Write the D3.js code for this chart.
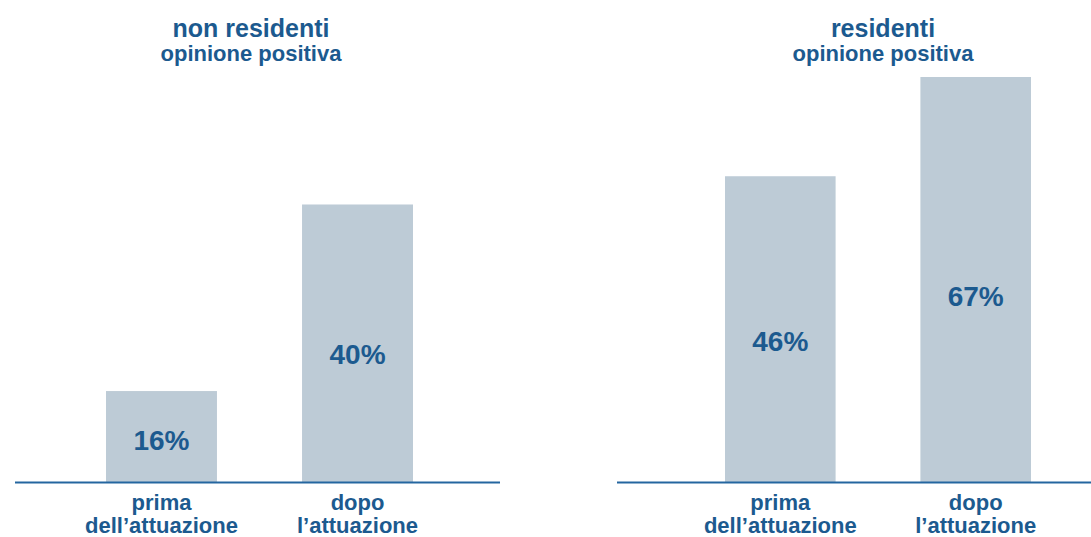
<!DOCTYPE html>
<html>
<head>
<meta charset="utf-8">
<script src="https://cdn.jsdelivr.net/npm/d3@7"></script>
<style>
  html, body { margin: 0; padding: 0; background: #fff; }
  svg { display: block; }
  text { font-family: "Liberation Sans", Arial, Helvetica, sans-serif; font-weight: bold; fill: #1c5a8f; }
</style>
</head>
<body>
<svg id="chart" width="1091" height="537"></svg>
<script>
// ---- data ----
const panelTitles = ["non residenti", "residenti"];
const panelSubtitles = ["opinione positiva", "opinione positiva"];
const categories = ["prima dell’attuazione", "dopo l’attuazione"];
const categoryLines = [["prima", "dell’attuazione"], ["dopo", "l’attuazione"]];
const nonResidenti = [16, 40];
const residenti = [46, 67];
const valueLabels = [["16%", "40%"], ["46%", "67%"]];
// per-panel value-axis domains (the original panels are not drawn to a common scale)
const valueDomains = [[4.3, 56.4], [-18.7, 67]];

// ---- layout ----
const W = 1091, H = 537;
const baseY = 482, topY = 77;
const barRanges = [[106, 413], [725, 1031]];
const lineRanges = [[15, 500], [617, 1091]];
const titleX = [251, 883];
const barColor = "#bdcbd6";
const lineColor = "#2466a0";

const svg = d3.select("#chart");
const seriesList = [nonResidenti, residenti];

seriesList.forEach((values, p) => {
  const g = svg.append("g");
  const x = d3.scaleBand().domain(categories).range(barRanges[p]).paddingInner(0.434).paddingOuter(0);
  const y = d3.scaleLinear().domain(valueDomains[p]).range([baseY, topY]);
  const rows = categories.map((c, i) => ({ c, v: values[i], label: valueLabels[p][i], lines: categoryLines[i] }));

  g.selectAll("rect.bar").data(rows).join("rect")
    .attr("class", "bar")
    .attr("x", d => x(d.c))
    .attr("width", x.bandwidth())
    .attr("y", d => y(d.v))
    .attr("height", d => baseY - y(d.v))
    .attr("fill", barColor);

  // baseline axis
  g.append("line")
    .attr("x1", lineRanges[p][0]).attr("x2", lineRanges[p][1])
    .attr("y1", baseY + 0.5).attr("y2", baseY + 0.5)
    .attr("stroke", lineColor).attr("stroke-width", 2.2);

  // value labels
  g.selectAll("text.val").data(rows).join("text")
    .attr("class", "val")
    .attr("x", d => x(d.c) + x.bandwidth() / 2)
    .attr("y", d => baseY - 0.46 * (baseY - y(d.v)) + 10)
    .attr("text-anchor", "middle")
    .attr("font-size", 28)
    .text(d => d.label);

  // category labels
  const cat = g.selectAll("text.cat").data(rows).join("text")
    .attr("class", "cat")
    .attr("text-anchor", "middle")
    .attr("font-size", 22);
  cat.selectAll("tspan").data(d => d.lines.map(l => ({ l, cx: x(d.c) + x.bandwidth() / 2 }))).join("tspan")
    .attr("x", d => d.cx)
    .attr("y", (d, i) => 510 + i * 23)
    .text(d => d.l);

  // titles
  g.append("text")
    .attr("x", titleX[p]).attr("y", 37)
    .attr("text-anchor", "middle")
    .attr("font-size", 25)
    .text(panelTitles[p]);
  g.append("text")
    .attr("x", titleX[p]).attr("y", 61)
    .attr("text-anchor", "middle")
    .attr("font-size", 22)
    .text(panelSubtitles[p]);
});
</script>
</body>
</html>
